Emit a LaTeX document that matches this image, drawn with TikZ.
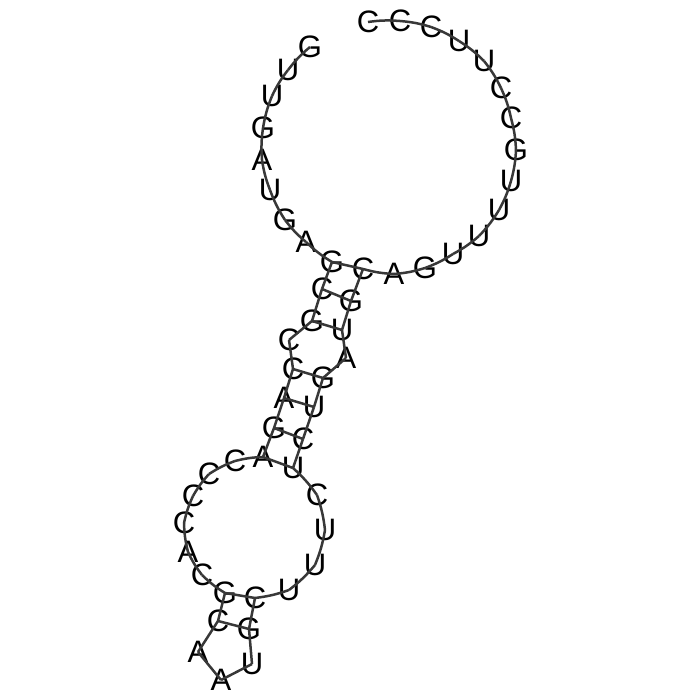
\documentclass[tikz,border=0pt]{standalone}
\usepackage{fontspec}
\setmainfont{Liberation Sans}

\begin{document}
\begin{tikzpicture}[x=1pt,y=-1pt]
    \tikzstyle{every node} = [font=\fontsize{31}{31}\selectfont]
    \tikzstyle{nucleotide} = [inner sep=0pt, text=black]
    \tikzstyle{backbone} = [draw=black!78, line width=2.5pt]
    \useasboundingbox (0,0) rectangle (700,700);

    % place nodes
    \foreach \px/\py/\letter [count=\i] in {
      310/47/G, 288/70/U, 272/96/U, 263/128/G, 262/160/A, 270/190/U, 285/220/G, 306/242/A,
      332/262/G, 322/289/C, 312/321/G, 289/340/C, 293/369/C, 284/398/A, 274/428/G, 263/457/A,
      235/461/C, 209/474/C, 193/496/C, 184/523/C, 188/552/A, 202/575/C, 225/593/G, 218/621/C,
      198/652/A, 221/680/A, 252/664/U, 249/629/G, 255/598/C, 289/590/U, 315/565/U, 325/530/U,
      317/495/C, 293/468/U, 303/439/C, 314/407/U, 323/378/G, 346/358/A, 342/330/U, 351/301/G,
      363/269/C, 394/274/A, 425/268/G, 453/254/U, 479/236/U, 499/210/U, 511/181/U, 516/150/G,
      511/118/C, 501/88/C, 484/61/U, 459/41/U, 431/27/C, 400/21/C, 368/22/C}
      \node[nucleotide] (base\i) at (\px,\py) {\letter};

    % Connections: loops
    \foreach \first/\last in {1/8,16/22,29/33,41/54}
      \foreach \a in {\first,...,\last} {
        \pgfmathtruncatemacro{\b}{\a+1}
        \draw[backbone] (base\a.center) to[bend right=6] (base\b.center);
      }
    % Connections: stems and hairpin
    \foreach \first/\last in {9/15,23/28,34/40}
      \foreach \a in {\first,...,\last} {
        \pgfmathtruncatemacro{\b}{\a+1}
        \draw[backbone] (base\a.center) -- (base\b.center);
      }
    % base pairs
    \foreach \a/\b in {9/41,10/40,11/39,13/37,14/36,15/35,16/34,23/29,24/28}
      \draw[backbone] (base\a.center) -- (base\b.center);
\end{tikzpicture}
\end{document}
